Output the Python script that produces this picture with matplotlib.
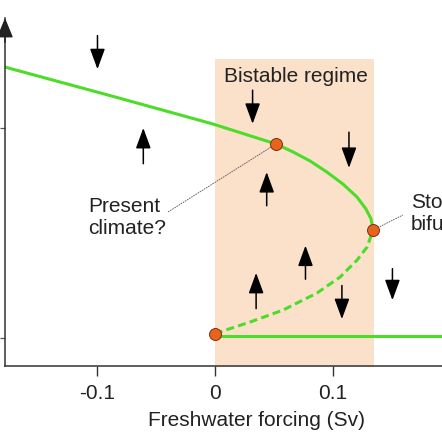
import matplotlib
matplotlib.use("Agg")
import matplotlib.pyplot as plt

plt.rcParams['font.family'] = ['Liberation Sans', 'DejaVu Sans']
plt.rcParams['axes.unicode_minus'] = False

# upper (on) branch
upper_x = [-0.18, -0.0851, -0.0017, 0.0383, 0.0519, 0.0664, 0.0809, 0.0953,
           0.1089, 0.1209, 0.1285, 0.1328, 0.1345]
upper_y = [1.292, 1.148, 1.019, 0.948, 0.924, 0.886, 0.843, 0.790,
           0.733, 0.671, 0.614, 0.567, 0.514]
# unstable branch (dashed)
mid_x = [0.0, 0.0043, 0.0298, 0.0579, 0.0868, 0.1064, 0.1209, 0.1294, 0.1345]
mid_y = [0.019, 0.029, 0.076, 0.133, 0.214, 0.290, 0.371, 0.433, 0.514]
# lower (off) branch
lower_x = [0.0, 0.21]
lower_y = [0.01, 0.01]

# special points: off-state start, present climate, Stommel bifurcation
dot_x = [0.0, 0.0519, 0.1345]
dot_y = [0.019, 0.924, 0.514]

bistable = (0.0, 0.1353)
shade_top = 1.329

# flow arrows: x, tail y, head y
arrow_x = [-0.100, -0.061, 0.032, 0.114, 0.044, 0.035, 0.077, 0.108, 0.151]
arrow_tail = [1.44, 0.83, 1.18, 0.98, 0.63, 0.14, 0.28, 0.25, 0.33]
arrow_head = [1.28, 1.00, 1.02, 0.81, 0.79, 0.31, 0.44, 0.09, 0.18]

xticks = [-0.1, 0.0, 0.1]
xticklabels = ['-0.1', '0', '0.1']
yticks = [0.0, 1.0]

green = '#4cdc2a'
orange = '#e8641c'
text_col = '#222222'

fig = plt.figure(figsize=(4.42, 4.42), dpi=100)
ax = fig.add_axes([5 / 442, 76 / 442, 455 / 442, 348 / 442])
ax.set_xlim(-0.1787, 0.2085)
ax.set_ylim(-0.1333, 1.5238)

ax.fill_between(bistable, -0.2, shade_top, color='#fbe0ca', lw=0, zorder=0)

ax.plot(upper_x, upper_y, color=green, lw=2.2, solid_capstyle='butt', zorder=2)
ax.plot(mid_x, mid_y, color=green, lw=2.2, dashes=(2.6, 1.4), zorder=2)
ax.plot(lower_x, lower_y, color=green, lw=2.2, zorder=2)
ax.plot(dot_x, dot_y, 'o', ms=8.6, mfc=orange, mec='#7a3010', mew=0.7,
        zorder=4, clip_on=False)

for x, y0, y1 in zip(arrow_x, arrow_tail, arrow_head):
    ax.annotate('', xy=(x, y1), xytext=(x, y0),
                arrowprops=dict(arrowstyle='-|>,head_length=0.9,head_width=0.33',
                                mutation_scale=14, lw=1.1, color='k',
                                shrinkA=0, shrinkB=0), zorder=3)

# leader lines
ax.plot([-0.040, dot_x[1]], [0.60, dot_y[1]], color='#555555', lw=0.6,
        dashes=(2, 1), zorder=3)
ax.plot([dot_x[2], 0.160], [dot_y[2], 0.586], color='#555555', lw=0.6,
        dashes=(2, 1), zorder=3)

ax.text(0.069, 1.219, 'Bistable regime', ha='center', va='baseline',
        fontsize=15, color=text_col)
ax.text(-0.108, 0.600, 'Present', ha='left', va='baseline', fontsize=15,
        color=text_col)
ax.text(-0.108, 0.495, 'climate?', ha='left', va='baseline', fontsize=15,
        color=text_col)
ax.text(0.1668, 0.619, 'Stommel', ha='left', va='baseline', fontsize=15,
        color=text_col)
ax.text(0.1668, 0.514, 'bifurcation', ha='left', va='baseline', fontsize=15,
        color=text_col)

for s in ['top', 'right']:
    ax.spines[s].set_visible(False)
for s in ['left', 'bottom']:
    ax.spines[s].set_color('#333333')
    ax.spines[s].set_linewidth(1.1)

# y axis arrow head
ax.annotate('', xy=(0, 1.0), xycoords='axes fraction', xytext=(0, 0.93),
            arrowprops=dict(arrowstyle='-|>,head_length=0.8,head_width=0.33',
                            mutation_scale=15, lw=1.1, color='#222222',
                            shrinkA=0, shrinkB=0), annotation_clip=False)

ax.set_xticks(xticks)
ax.set_xticklabels(xticklabels)
ax.set_yticks(yticks)
ax.set_yticklabels([])
ax.tick_params(axis='x', direction='out', length=7.2, width=1.0,
               color='#333333', labelsize=15, labelcolor=text_col, pad=5.5)
ax.tick_params(axis='y', direction='out', length=3.6, width=0.9,
               color='#555555')

ax.set_xlabel('Freshwater forcing (Sv)', fontsize=15, color=text_col)
ax.xaxis.set_label_coords((257 - 5) / 455, -0.129)

fig.savefig('out.png', dpi=100)
